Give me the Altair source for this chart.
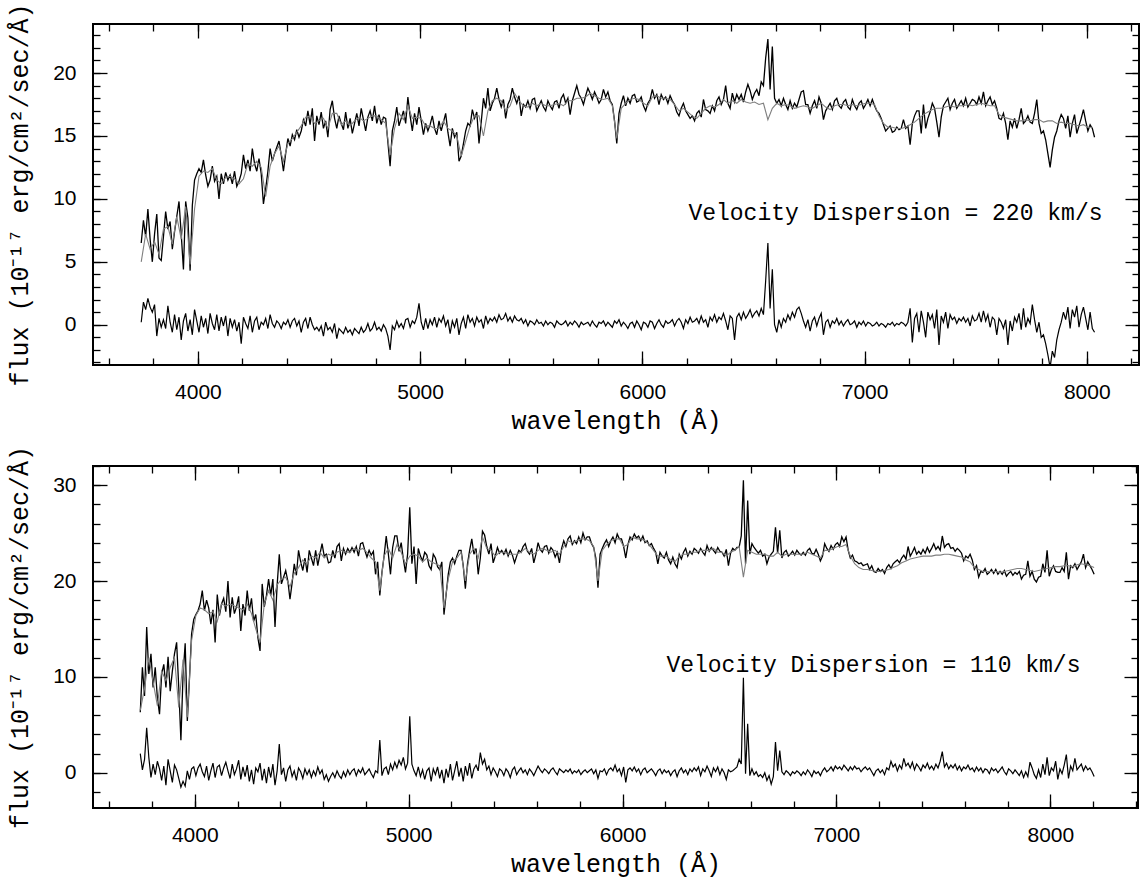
import altair as alt
import pandas as pd

# ---------------- data ----------------
OBS_START = 3745       # first wavelength of the observed / residual spectra (Angstrom)
OBS_STEP = 10          # sampling of the observed / residual spectra
MODEL_START = 3745
MODEL_STEP = 20        # sampling of the template (model) spectra

# upper panel: sigma = 220 km/s
top_obs = [
    6.5, 8.3, 7.0, 9.2, 6.8, 5.0, 7.2, 8.8, 5.3, 5.1,
    7.0, 9.0, 7.6, 8.2, 6.0, 7.4, 8.6, 9.8, 7.2, 4.4,
    9.8, 8.5, 4.3, 9.5, 11.5, 12.0, 12.4, 12.1, 13.1, 11.9,
    11.0, 11.5, 12.6, 11.4, 11.8, 10.0, 12.0, 11.2, 12.1, 11.5,
    11.9, 11.2, 12.2, 11.0, 11.4, 12.0, 13.5, 12.4, 13.1, 12.2,
    14.0, 12.8, 12.2, 13.2, 12.0, 9.6, 10.8, 12.2, 14.0, 13.0,
    13.6, 14.1, 14.6, 13.5, 12.2, 13.6, 14.8, 14.2, 15.1, 14.7,
    15.5, 14.9, 15.4, 16.3, 15.8, 17.0, 15.9, 17.2, 14.6, 16.6,
    15.9, 16.9, 15.6, 16.2, 14.9, 17.1, 17.8, 16.4, 15.6, 16.6,
    16.0, 15.5, 16.9, 15.6, 16.4, 15.2, 16.0, 16.8, 15.8, 17.2,
    16.3, 15.4, 16.5, 17.0, 16.2, 17.4, 16.0, 16.7, 15.9, 16.5,
    16.4, 14.5, 12.6, 15.4, 16.2, 17.3, 15.8, 16.4, 17.0, 16.0,
    18.1, 16.6, 15.4, 16.8, 15.9, 17.3, 16.2, 15.1, 16.0, 15.4,
    15.9, 16.6, 15.6, 15.1, 16.2, 15.4, 16.1, 16.8, 15.3, 14.2,
    15.6, 14.9, 15.3, 13.0, 13.4, 14.4, 15.4, 16.0, 15.8, 17.1,
    16.4, 16.9, 14.4, 16.1, 18.0, 17.2, 18.8, 17.0, 17.6, 18.0,
    18.8, 17.9, 17.3, 17.9, 16.4, 17.5, 17.9, 18.8, 18.1, 17.6,
    18.2, 16.6, 17.5, 17.3, 17.8, 17.2, 17.9, 18.0, 17.0, 17.4,
    17.8, 17.3, 17.0, 17.8, 17.4, 17.1, 17.7, 17.8, 17.2, 18.0,
    18.3, 17.6, 18.0, 16.7, 17.8, 18.4, 19.0, 18.3, 18.0, 17.5,
    18.2, 18.8, 18.4, 17.9, 18.5, 18.1, 17.6, 17.9, 18.7, 18.1,
    18.5, 17.8, 17.5, 16.2, 14.4, 16.8, 17.6, 18.2, 17.4, 18.0,
    17.6, 18.2, 18.3, 17.7, 17.8, 18.1, 17.4, 17.0, 17.6, 17.9,
    18.7, 18.0, 18.3, 17.5, 18.3, 17.9, 18.1, 17.6, 18.2, 17.8,
    17.5, 16.9, 16.6, 17.2, 17.6, 17.0, 16.7, 16.4, 16.6, 16.2,
    16.8, 17.0, 16.5, 17.9, 17.1, 17.0, 16.8, 17.4, 17.0, 17.8,
    18.1, 17.5, 17.9, 19.0, 17.6, 17.2, 18.4, 17.7, 18.3, 17.9,
    18.3, 17.7, 18.5, 19.1, 18.6, 17.9, 18.4, 18.7, 18.2, 19.3,
    19.0, 21.2, 22.7, 18.7, 22.1, 18.0, 17.6, 17.9, 17.4, 18.0,
    17.5, 17.1, 17.8, 17.2, 17.6, 17.3, 17.9, 18.5, 18.6, 17.5,
    17.5, 16.8, 17.4, 17.8, 17.2, 18.1, 17.6, 16.3, 17.0, 17.3,
    17.6, 17.1, 17.8, 18.0, 17.4, 17.2, 17.7, 17.9, 17.3, 17.1,
    17.9, 17.4, 17.1, 17.6, 17.8, 17.2, 17.5, 17.9, 17.4, 17.9,
    17.4, 17.0, 16.8, 16.4, 15.9, 15.4, 15.6, 15.8, 15.3, 15.4,
    15.7, 15.5, 15.6, 16.3, 15.6, 15.8, 14.3, 16.0, 16.6, 17.0,
    17.0, 15.2, 17.5, 15.6, 16.4, 16.9, 17.6, 17.2, 16.1, 14.9,
    16.5, 17.4, 17.7, 18.0, 17.1, 17.6, 17.9, 17.2, 17.5, 17.8,
    17.4, 18.0, 17.3, 17.6, 17.9, 17.8, 17.5, 18.1, 17.6, 18.5,
    17.4, 17.8, 18.1, 17.5, 17.8, 17.2, 16.4, 16.3, 16.8, 16.0,
    14.7, 16.2, 15.7, 16.4, 15.6, 16.3, 17.2, 16.0, 16.2, 16.6,
    16.1, 16.0, 16.8, 17.9, 16.0, 15.2, 15.4, 14.7, 13.6, 12.5,
    13.9, 14.9, 15.4, 16.2, 16.7, 16.4, 15.6, 16.6, 14.9, 16.0,
    16.7, 15.2, 15.8, 16.4, 17.1, 16.2, 15.4, 15.9, 15.6, 14.9,
]
top_model = [
    5.0, 7.2, 6.0, 6.6, 5.6, 7.6, 7.8, 6.4, 8.6, 6.8,
    9.4, 4.8, 9.2, 11.8, 12.2, 12.1, 12.4, 11.5, 11.2, 11.7,
    11.8, 11.6, 11.2, 11.6, 12.8, 12.6, 13.0, 12.5, 10.2, 12.6,
    13.6, 14.2, 13.0, 14.4, 14.8, 15.3, 15.8, 16.5, 16.6, 16.0,
    16.2, 16.4, 15.6, 16.8, 16.8, 15.9, 16.2, 15.8, 16.2, 16.5,
    16.2, 16.4, 16.6, 16.6, 16.3, 16.0, 13.5, 15.6, 16.8, 16.3,
    17.4, 16.4, 16.5, 16.4, 15.8, 15.8, 15.6, 15.6, 16.2, 15.6,
    15.4, 15.0, 13.4, 14.6, 15.8, 16.6, 16.6, 15.0, 17.0, 17.8,
    18.0, 17.8, 17.0, 17.4, 18.4, 17.8, 17.4, 17.3, 17.6, 17.4,
    17.6, 17.4, 17.4, 17.5, 17.6, 17.4, 17.8, 17.8, 18.0, 18.0,
    18.1, 18.4, 18.2, 18.0, 17.9, 18.0, 17.4, 14.8, 17.2, 17.6,
    17.9, 18.0, 17.9, 17.6, 17.4, 18.1, 18.2, 18.0, 18.0, 17.9,
    17.5, 17.0, 17.2, 16.9, 16.6, 16.4, 16.8, 17.2, 17.4, 17.3,
    17.5, 17.9, 17.6, 17.8, 17.6, 17.9, 17.7, 17.6, 17.7, 17.5,
    17.6, 16.3, 17.2, 17.6, 17.4, 17.5, 17.4, 17.2, 17.3, 17.4,
    17.3, 17.2, 17.4, 17.6, 17.3, 17.1, 17.4, 17.5, 17.5, 17.4,
    17.5, 17.4, 17.5, 17.6, 17.6, 17.5, 16.6, 16.0, 15.7, 15.7,
    15.6, 15.6, 15.7, 15.9, 16.1, 16.4, 16.7, 16.9, 17.1, 17.2,
    17.2, 17.3, 17.4, 17.3, 17.4, 17.4, 17.5, 17.4, 17.5, 17.6,
    17.5, 17.4, 17.4, 16.7, 16.5, 16.4, 16.3, 16.2, 16.2, 16.3,
    16.2, 16.3, 16.3, 16.1, 16.2, 16.2, 16.0, 16.1, 16.0, 16.0,
    15.9, 15.8, 15.9, 15.7, 15.7,
]
top_resid = [
    0.2, 1.8, 1.2, 2.1, 1.4, 1.0, 1.6, -0.9, 0.5, -0.2,
    0.4, -0.3, 1.5, 0.2, -0.6, 0.8, -0.4, 0.6, -1.2, 0.3,
    0.9, -0.5, 0.4, -0.8, 1.2, 0.3, -0.6, 0.7, -0.2, 0.5,
    -0.7, 0.9, 0.1, -0.4, 0.8, -0.5, 0.6, -0.1, 0.7, -0.9,
    0.5, -0.2, 0.4, -0.5, 0.2, -1.5, 0.6, 0.1, -0.3, 0.7,
    -0.6, 0.3, 0.6, -0.4, 0.2, 0.0, 0.5, -0.3, 0.8, 0.1,
    -0.2, 0.3, 0.1, -0.3, 0.2, 0.0, 0.4, -0.2, 0.3, 0.5,
    -0.1, 0.3, -0.6, 0.2, 0.5, -0.3, 0.6, 0.0, -0.4, -0.2,
    -0.5, -0.1, -0.9, 0.2, -0.4, -0.2, -0.6, 0.1, -1.1, -0.3,
    -0.5, -0.7, -0.2, -0.6, -0.4, -0.8, -0.3, -0.5, -0.7, -0.2,
    -0.6, -0.4, 0.1, -0.5, -0.3, 0.2, -0.4, -0.2, -0.5, 0.0,
    -0.3, -0.9, -2.0, -0.1, -0.4, 0.3, -0.2, 0.1, -0.3, 0.4,
    0.5, -0.2, 0.3, 0.1, 0.6, 1.7, 0.2, -0.4, 0.5, -0.3,
    0.4, 0.0, 0.6, -0.2, 0.5, 0.2, 0.7, -0.1, 0.4, -0.7,
    0.3, -0.2, 0.5, -0.8, 0.1, 0.6, -0.3, 0.8, 0.2, 0.5,
    -0.1, 0.6, 0.2, 0.4, -0.3, 0.7, 0.1, 0.5, 0.3, 0.6,
    0.2, 0.8, 0.4, 0.5, 0.9, 0.3, 0.6, 0.2, 0.7, 0.4,
    0.3, 0.5, 0.1, 0.4, -0.1, 0.3, 0.2, 0.0, 0.4, 0.1,
    0.2, -0.1, 0.3, 0.0, 0.2, 0.1, -0.2, 0.3, 0.1, 0.0,
    0.1, 0.3, -0.1, 0.2, 0.0, 0.3, 0.1, -0.2, 0.2, 0.0,
    0.1, 0.2, -0.1, 0.3, 0.0, -0.2, 0.2, 0.1, 0.3, -0.1,
    0.2, 0.0, -0.2, 0.3, 0.1, 0.4, -0.1, 0.2, 0.0, -0.3,
    0.1, 0.2, -0.2, 0.3, 0.0, -0.4, 0.2, 0.1, -0.2, 0.3,
    0.2, -0.3, 0.1, 0.4, 0.0, -0.2, 0.3, 0.1, 0.2, 0.4,
    -0.1, 0.3, 0.5, 0.2, -0.3, 0.4, 0.1, 0.6, 0.2, 0.3,
    0.5, 0.1, 0.7, 0.2, 0.4, -0.2, 0.6, 0.3, 0.8, 0.2,
    0.6, 0.4, 0.9, 0.3, -0.4, 0.7, 0.5, -1.2, 0.6, 0.9,
    0.4, 1.0, 0.5, 0.8, 1.2, 0.6, 0.9, 1.1, 0.7, 1.3,
    0.8, 3.5, 6.5, 1.3, 4.4, 0.0, -0.6, 0.4, -0.2, 0.5,
    0.2, 0.8, 0.4, 1.0, 0.6, 1.2, 1.4, 0.9, 0.3, -0.2,
    0.4, -0.5, 0.3, 0.6, -0.1, 0.5, 0.9, -0.8, 0.2, 0.4,
    -0.2, 0.3, 0.1, 0.5, 0.0, 0.3, -0.1, 0.2, 0.4, 0.0,
    0.1, 0.3, -0.2, 0.2, 0.0, 0.3, -0.1, 0.2, 0.1, -0.1,
    0.0, 0.2, -0.1, 0.1, 0.0, -0.2, 0.1, 0.0, 0.2, -0.1,
    0.1, 0.0, 0.2, 0.1, -0.1, 0.2, 1.3, -1.4, 0.5, 0.9,
    -0.6, 1.1, 0.2, -1.0, 1.0, 0.4, 0.8, -0.3, 1.2, -1.6,
    0.7, 0.2, 1.0, -0.3, 0.8, 0.4, 0.6, 0.1, 0.5, 0.3,
    0.6, 0.2, 0.5, -0.1, 0.7, 0.3, 0.4, 0.9, 0.2, 1.1,
    0.3, 0.8, -0.2, 0.6, 0.4, -0.8, 0.5, 0.2, -0.3, 0.4,
    -1.6, 0.3, -0.5, 0.6, 0.2, 0.9, -0.4, 1.3, -0.2, 0.5,
    0.1, 1.6, 0.4, -0.6, 0.2, -1.0, -0.8, -1.5, -2.4, -3.4,
    -2.1, -2.6, -1.2, -0.4, 0.2, 1.0, 0.4, 1.4, -0.3, 1.2,
    0.6, 1.5, -0.2, 0.8, 1.4, 0.5, -0.4, 1.0, -0.3, -0.6,
]

# lower panel: sigma = 110 km/s
bot_obs = [
    6.3, 11.0, 8.0, 15.2, 10.3, 12.4, 8.9, 11.0, 7.8, 6.1,
    10.3, 11.3, 8.9, 12.1, 8.5, 10.6, 12.4, 13.6, 8.9, 3.4,
    10.2, 13.5, 5.4, 9.8, 14.5, 16.0, 16.5, 16.9, 17.6, 19.0,
    16.9, 18.0, 17.2, 15.5, 17.0, 13.6, 18.6, 16.4, 17.6, 18.2,
    16.8, 20.0, 16.2, 18.3, 16.6, 17.3, 18.4, 14.8, 17.6, 16.4,
    19.0, 16.9, 18.2, 15.8, 16.5, 14.1, 12.7, 19.7, 17.3, 18.5,
    20.2, 18.5, 20.2, 15.2, 19.6, 22.8, 19.7, 20.4, 21.1, 20.0,
    18.1, 19.8, 21.8, 20.6, 23.2, 22.0, 21.1, 22.4, 20.9, 23.2,
    22.4, 21.6, 23.2, 21.6, 22.8, 23.9, 22.6, 22.8, 21.9, 22.0,
    23.2, 22.4, 23.6, 23.9, 22.1, 23.4, 22.8, 23.4, 23.0, 23.5,
    23.0, 23.6, 22.6, 23.9, 24.0, 23.2, 22.5, 23.2, 22.7, 23.1,
    20.7, 22.0, 18.5, 20.9, 22.6, 24.7, 22.8, 20.7, 23.5, 24.7,
    24.7, 23.1, 24.0, 22.3, 20.9, 22.8, 27.7, 21.8, 23.6, 19.7,
    23.4, 22.6, 22.1, 23.0, 22.7, 21.6, 21.2, 22.8, 22.4, 21.5,
    21.2, 22.0, 16.5, 18.6, 20.7, 22.0, 22.4, 21.8, 22.6, 23.2,
    23.2, 21.6, 19.2, 21.8, 23.2, 24.4, 22.8, 23.4, 20.7, 22.4,
    25.2, 24.8, 23.6, 22.8, 23.9, 21.9, 22.6, 23.5, 22.9, 23.2,
    22.8, 23.3, 22.6, 23.2, 22.7, 21.9, 22.6, 23.2, 23.0, 23.6,
    23.9, 23.1, 22.8, 23.4, 21.9, 22.8, 24.0, 23.3, 23.0, 23.6,
    23.7, 22.9, 23.5, 23.2, 22.5, 23.0, 21.9, 23.4, 24.2, 23.6,
    24.4, 24.7, 23.8, 24.2, 23.9, 24.6, 24.0, 25.0, 24.3, 24.6,
    24.6, 23.9, 23.5, 22.4, 19.3, 22.8, 23.4, 23.9, 24.3, 23.6,
    24.2, 24.6, 24.0, 24.9, 24.4, 24.4, 23.6, 22.4, 23.8, 24.6,
    24.3, 24.9, 24.5, 24.7, 24.2, 24.7, 24.0, 24.2, 23.7, 23.9,
    23.4, 23.0, 21.8, 23.0, 22.6, 22.4, 23.0, 22.2, 21.8, 22.5,
    21.8, 21.4, 22.8, 22.3, 23.0, 23.4, 22.6, 23.1, 22.8, 23.4,
    23.2, 22.9, 23.4, 23.0, 22.7, 23.7, 23.1, 23.5, 23.2, 22.9,
    23.5, 23.1, 23.0, 22.6, 23.3, 21.6, 22.9, 23.4, 23.2, 23.5,
    23.5, 24.7, 30.5, 21.8, 28.4, 22.8, 23.9, 23.5, 23.2, 22.9,
    23.2, 22.6, 22.8, 21.8, 22.5, 22.8, 23.1, 25.6, 22.9, 25.3,
    22.4, 23.0, 23.2, 22.6, 22.8, 23.1, 22.7, 23.2, 22.9, 22.7,
    23.0, 22.7, 23.2, 23.4, 22.9, 22.8, 23.3, 22.8, 22.1, 22.6,
    23.9, 23.4, 23.1, 23.7, 23.3, 23.8, 24.0, 23.6, 24.6, 24.1,
    24.6, 23.2, 22.4, 22.7, 22.1, 22.0, 21.8, 21.9, 21.6, 21.7,
    21.8, 21.2, 21.6, 21.0, 20.9, 21.3, 21.0, 21.2, 20.8, 21.4,
    21.7, 21.3, 21.8, 22.0, 22.2, 21.9, 22.4, 22.7, 22.3, 23.6,
    22.6, 23.0, 23.5, 22.8, 23.1, 22.8, 23.3, 22.9, 23.5, 23.0,
    23.4, 23.9, 23.3, 23.6, 23.2, 24.7, 23.5, 23.8, 23.9, 23.4,
    23.5, 23.1, 23.4, 23.2, 22.9, 22.1, 22.6, 22.4, 22.8, 22.2,
    21.2, 21.6, 20.4, 21.0, 20.9, 21.3, 20.7, 20.9, 21.2, 20.8,
    21.2, 20.7, 21.0, 20.7, 21.1, 20.5, 20.8, 21.0, 20.6, 20.9,
    20.7, 21.0, 20.2, 20.6, 20.7, 22.1, 20.5, 21.0, 20.2, 19.9,
    20.4, 20.5, 21.8, 20.9, 23.2, 20.5, 21.2, 21.6, 21.0, 20.9,
    20.9, 21.4, 21.0, 23.0, 20.2, 21.6, 21.4, 21.8, 21.2, 21.6,
    22.0, 22.8, 21.4, 22.0, 21.6, 21.2, 20.7,
]
bot_model = [
    6.5, 8.8, 12.0, 9.5, 7.0, 10.6, 9.6, 11.0, 12.0, 6.8,
    11.8, 5.8, 13.8, 16.4, 17.2, 17.0, 16.6, 16.8, 15.8, 17.6,
    17.4, 17.6, 17.4, 17.2, 17.0, 17.6, 16.6, 15.0, 13.6, 17.6,
    19.0, 18.0, 19.6, 20.2, 20.4, 19.4, 20.8, 21.4, 22.2, 21.8,
    22.6, 22.4, 23.0, 22.4, 22.8, 22.6, 23.0, 23.2, 23.0, 23.0,
    23.4, 23.2, 23.4, 23.0, 22.4, 22.0, 19.0, 22.6, 23.4, 22.4,
    23.8, 23.0, 21.8, 22.6, 22.8, 22.6, 22.0, 22.4, 22.0, 21.8,
    21.6, 17.2, 20.2, 22.0, 22.4, 23.0, 20.0, 22.8, 23.4, 22.4,
    24.6, 23.4, 23.2, 22.6, 23.0, 23.0, 22.8, 22.8, 22.8, 23.0,
    23.4, 23.0, 22.8, 23.2, 23.4, 23.2, 23.0, 23.2, 22.8, 23.6,
    24.2, 24.0, 24.2, 24.4, 24.4, 24.2, 23.6, 20.0, 23.2, 23.8,
    24.2, 24.4, 24.4, 23.6, 23.8, 24.6, 24.4, 24.4, 24.2, 23.8,
    23.2, 22.6, 22.6, 22.6, 22.2, 22.0, 22.6, 22.8, 22.8, 23.0,
    23.0, 23.2, 23.2, 23.2, 23.4, 23.0, 23.0, 22.6, 23.0, 23.2,
    23.6, 20.4, 23.2, 23.0, 22.8, 22.8, 22.8, 22.6, 22.6, 23.0,
    22.6, 22.8, 22.8, 22.8, 22.8, 22.8, 23.0, 22.8, 22.6, 22.4,
    23.2, 23.2, 23.4, 23.6, 23.6, 23.8, 22.6, 21.8, 21.4, 21.2,
    21.2, 21.1, 21.0, 21.0, 21.1, 21.2, 21.4, 21.6, 21.9, 22.1,
    22.3, 22.4, 22.5, 22.6, 22.6, 22.6, 22.7, 22.7, 22.8, 22.8,
    22.7, 22.6, 22.5, 22.2, 22.0, 21.4, 21.2, 21.0, 21.0, 21.0,
    21.0, 20.9, 21.0, 21.1, 21.2, 21.3, 21.3, 21.2, 21.1, 21.0,
    21.1, 21.2, 21.3, 21.4, 21.5, 21.5, 21.6, 21.6, 21.5, 21.7,
    21.8, 21.7, 21.6, 21.4,
]
bot_resid = [
    2.0, 0.3, 1.4, 4.7, 1.6, -0.5, 0.9, -0.2, 1.2, 0.4,
    -0.8, 0.7, -1.3, 1.4, 0.2, -1.0, 0.8, 0.3, -0.6, -1.5,
    -0.9, -1.4, 0.2, -0.7, 0.4, 0.6, -0.3, 0.5, 0.9, 0.1,
    -0.4, 0.7, -0.8, 0.2, 1.0, -0.5, 0.6, 0.8, -0.3, 0.5,
    1.1, 0.2, -0.6, 0.9, -0.2, 0.4, 1.3, -0.7, 0.6, -0.4,
    0.8, -0.9, 0.3, -1.2, 0.5, 0.1, 1.0, -0.8, 0.4, -1.1,
    0.6, -0.5, 0.9, -1.3, 0.2, 3.0, -0.2, 0.5, -0.9, 0.3,
    0.7, -0.4, 0.2, -0.8, 0.5, 0.1, -0.6, 0.4, -0.2, 0.3,
    -0.5, 0.2, -0.3, 0.6, -0.1, 0.3, -0.7, -0.2, -0.9, -0.4,
    0.0, -0.5, 0.2, -0.3, -0.6, 0.1, -0.4, 0.3, -0.2, 0.2,
    0.4, -0.3, 0.3, 0.0, 0.5, -0.2, 0.1, 0.4, -0.1, -0.5,
    0.2, 0.0, 3.4, -0.3, 0.4, 0.6, -0.2, 0.9, 0.3, 1.1,
    0.5, 1.3, 0.8, 1.6, 0.4, 1.0, 5.9, 0.9, 0.2, -0.3,
    0.6, -0.4, 0.3, -0.7, 0.2, 0.5, -0.9, 0.4, -0.2, 0.6,
    -0.6, 0.3, -1.1, 0.4, -0.5, 0.9, -0.8, 0.2, 1.2, -0.4,
    0.5, -0.9, 0.7, -0.3, 1.0, -0.6, 0.4, 0.8, 0.2, 2.1,
    0.9, 1.4, 0.3, 0.7, -0.2, 0.5, 0.1, -0.4, 0.4, 0.2,
    -0.3, 0.4, 0.1, -0.5, 0.3, 0.6, -0.2, 0.2, 0.5, 0.0,
    0.3, -0.2, 0.4, 0.1, -0.3, 0.2, 0.7, 0.3, 0.0, 0.4,
    0.2, -0.1, 0.3, 0.5, 0.1, -0.2, 0.4, 0.2, 0.0, 0.3,
    0.1, 0.4, -0.1, 0.2, 0.0, 0.3, -0.2, 0.1, 0.3, 0.0,
    0.2, 0.4, -0.1, 0.3, -0.6, 0.2, 0.1, 0.4, -0.2, 0.3,
    0.5, 0.2, 0.8, 0.1, 0.4, -0.3, 0.6, -1.0, 0.3, 0.5,
    0.2, 0.6, 0.1, 0.4, -0.2, 0.3, 0.5, 0.0, 0.2, 0.4,
    0.1, -0.3, 0.2, 0.4, -0.1, 0.3, 0.0, 0.2, -0.3, 0.1,
    0.3, -0.4, 0.2, 0.5, 0.0, 0.3, -0.2, 0.4, 0.1, 0.5,
    0.2, 0.6, -0.3, 0.4, 0.1, 0.7, 0.2, -0.4, 0.5, 0.1,
    0.6, -0.2, 0.4, 0.0, -0.7, 0.3, 0.1, 0.2, 0.4, 0.6,
    1.4, 0.9, 9.9, -0.1, 5.1, -0.3, 0.4, -0.2, 0.1, -0.4,
    -0.2, -0.5, 0.0, -0.8, -0.3, -1.2, -0.4, 3.2, 0.2, 2.3,
    0.1, -0.2, 0.2, 0.0, -0.3, 0.1, -0.1, 0.2, 0.0, -0.3,
    0.1, -0.2, 0.3, 0.0, -0.4, 0.2, -0.1, 0.1, -0.3, 0.2,
    0.5, 0.1, 0.3, 0.6, 0.2, 0.7, 0.4, 0.6, 0.3, 0.8,
    0.5, 0.2, 0.6, 0.3, 0.7, 0.4, 0.5, 0.1, 0.4, 0.6,
    0.3, 0.5, 0.1, -0.3, 0.2, 0.4, 0.0, 0.3, -0.2, 0.5,
    0.3, 1.2, 0.6, 0.9, 0.2, 0.8, 0.4, 1.5, 0.7, 1.0,
    0.5, 1.1, 0.3, 0.9, 0.6, 0.2, 0.8, 0.5, 1.0, 0.4,
    0.7, 0.3, 0.9, 0.5, 1.2, 2.2, 0.6, 1.0, 0.4, 0.8,
    0.5, 0.9, 0.3, 0.7, 0.2, 0.6, 0.4, 0.8, 0.3, 0.5,
    0.1, 0.6, 0.2, 0.5, 0.0, 0.4, 0.3, -0.1, 0.5, 0.2,
    0.4, 0.0, 0.3, 0.6, 0.1, -0.2, 0.4, 0.2, -0.1, 0.3,
    0.0, -0.3, 0.2, -0.5, 0.1, -0.4, 1.1, 0.5, -0.2, -0.6,
    0.3, -0.5, 0.9, -0.2, 1.6, -0.3, 0.5, 0.2, 1.2, -0.7,
    0.4, -0.1, 0.8, 1.9, -0.6, 0.7, 0.2, 1.5, 0.3, 0.6,
    0.9, 0.2, 0.7, 0.3, 0.5, 0.1, -0.4,
]

# axis ranges, tick values and annotations
TOP_X_DOMAIN = [3528, 8235]
TOP_Y_DOMAIN = [-3.2, 23.9]
BOT_X_DOMAIN = [3524, 8410]
BOT_Y_DOMAIN = [-3.68, 32.0]
X_MAJOR = [4000, 5000, 6000, 7000, 8000]
TOP_X_MINOR = list(range(3600, 8201, 200))
BOT_X_MINOR = list(range(3600, 8401, 200))
TOP_Y_MAJOR = [0, 5, 10, 15, 20]
TOP_Y_MINOR = list(range(-3, 24, 1))
BOT_Y_MAJOR = [0, 10, 20, 30]
BOT_Y_MINOR = list(range(-2, 33, 2))
TOP_LABEL = ["Velocity Dispersion = 220 km/s"]
TOP_LABEL_X = [7139]
TOP_LABEL_Y = [8.9]
BOT_LABEL = ["Velocity Dispersion = 110 km/s"]
BOT_LABEL_X = [7173]
BOT_LABEL_Y = [11.2]

X_TITLE = "wavelength (Å)"
Y_TITLE = "flux (10⁻¹⁷ erg/cm²/sec/Å)"

SERIF = "Liberation Mono"
SANS = "Liberation Sans"


def series(values, start, step):
    return pd.DataFrame({"wave": [start + step * i for i in range(len(values))],
                         "flux": values})


def tick_axis(orient, values, size):
    return alt.Axis(orient=orient, values=values, ticks=True, tickSize=size,
                    offset=-size, labels=False, domain=False, grid=False,
                    title=None, tickColor="black", tickWidth=1.3)


def panel(obs, model, resid, xdom, ydom, xminor, ymajor, yminor,
          lab, lab_x, lab_y, w, h):
    xs = alt.Scale(domain=xdom, nice=False, zero=False)
    ys = alt.Scale(domain=ydom, nice=False, zero=False)
    x_lab_axis = alt.Axis(orient="bottom", values=X_MAJOR, ticks=False, tickSize=0,
                          domain=False, grid=False, format="d",
                          labelFont=SANS, labelFontSize=21, labelColor="black",
                          labelPadding=16, title=X_TITLE, titleFont=SERIF,
                          titleFontSize=25, titleFontWeight="normal",
                          titleColor="black", titlePadding=6)
    y_lab_axis = alt.Axis(orient="left", values=ymajor, ticks=False, tickSize=0,
                          domain=False, grid=False, format="d",
                          labelFont=SANS, labelFontSize=21, labelColor="black",
                          labelPadding=17, title=Y_TITLE, titleFont=SERIF,
                          titleFontSize=25, titleFontWeight="normal",
                          titleColor="black", titlePadding=20)
    obs_df = series(obs, OBS_START, OBS_STEP)
    mod_df = series(model, MODEL_START, MODEL_STEP)
    res_df = series(resid, OBS_START, OBS_STEP)
    lab_df = pd.DataFrame({"x": lab_x, "y": lab_y, "t": lab})

    a = alt.Chart(obs_df).mark_line(color="black", strokeWidth=1.3, clip=True).encode(
        x=alt.X("wave:Q", scale=xs, axis=x_lab_axis),
        y=alt.Y("flux:Q", scale=ys, axis=y_lab_axis))
    b = alt.Chart(mod_df).mark_line(color="#7f7f7f", strokeWidth=1.1, clip=True).encode(
        x=alt.X("wave:Q", scale=xs, axis=tick_axis("bottom", X_MAJOR, 14)),
        y=alt.Y("flux:Q", scale=ys, axis=tick_axis("left", ymajor, 14)))
    c = alt.Chart(res_df).mark_line(color="black", strokeWidth=1.2, clip=True).encode(
        x=alt.X("wave:Q", scale=xs, axis=tick_axis("bottom", xminor, 7)),
        y=alt.Y("flux:Q", scale=ys, axis=tick_axis("left", yminor, 7)))
    d = alt.Chart(lab_df).mark_text(font=SERIF, fontSize=23, color="black",
                                    align="center", baseline="middle").encode(
        x=alt.X("x:Q", scale=xs, axis=tick_axis("top", X_MAJOR, 14)),
        y=alt.Y("y:Q", scale=ys, axis=tick_axis("right", ymajor, 14)),
        text="t:N")
    e = alt.Chart(lab_df).mark_point(opacity=0).encode(
        x=alt.X("x:Q", scale=xs, axis=tick_axis("top", xminor, 7)),
        y=alt.Y("y:Q", scale=ys, axis=tick_axis("right", yminor, 7)))
    return alt.layer(a, b, c, d, e).resolve_axis(
        x="independent", y="independent").properties(width=w, height=h)


top = panel(top_obs, top_model, top_resid, TOP_X_DOMAIN, TOP_Y_DOMAIN,
            TOP_X_MINOR, TOP_Y_MAJOR, TOP_Y_MINOR,
            TOP_LABEL, TOP_LABEL_X, TOP_LABEL_Y, 1046, 341)
bottom = panel(bot_obs, bot_model, bot_resid, BOT_X_DOMAIN, BOT_Y_DOMAIN,
               BOT_X_MINOR, BOT_Y_MAJOR, BOT_Y_MINOR,
               BOT_LABEL, BOT_LABEL_X, BOT_LABEL_Y, 1045, 342)

chart = alt.vconcat(top, bottom, spacing=10).properties(
    padding={"left": 6, "top": 1, "right": 0, "bottom": 2},
    background="white",
).configure_view(stroke="black", strokeWidth=2)

chart.save("out.html", embed_options={"renderer": "svg", "actions": False})
